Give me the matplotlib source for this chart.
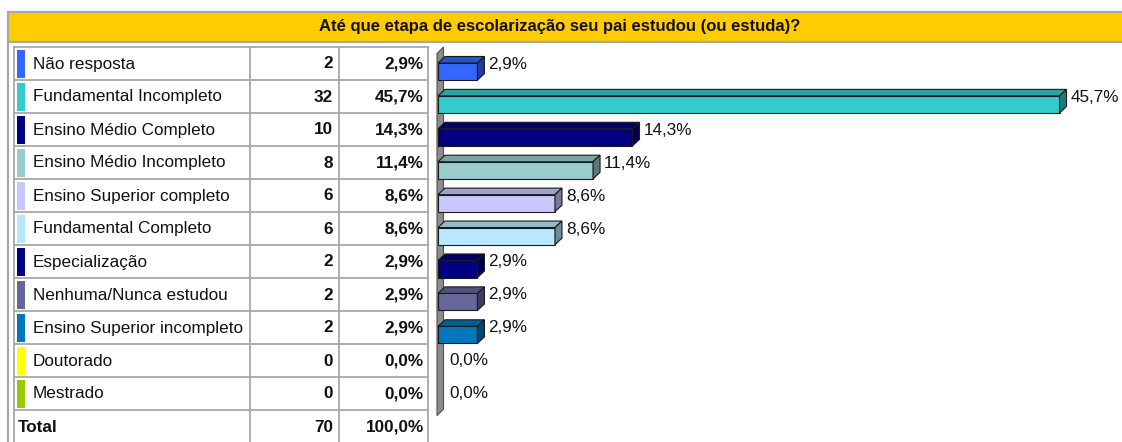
import matplotlib
matplotlib.use("Agg")
import matplotlib.pyplot as plt
from matplotlib.patches import Rectangle, Polygon
from matplotlib.colors import to_rgb
import numpy as np

plt.rcParams['font.family'] = ['Liberation Sans', 'DejaVu Sans']

title = "Até que etapa de escolarização seu pai estudou (ou estuda)?"
categories = ["Não resposta", "Fundamental Incompleto", "Ensino Médio Completo",
              "Ensino Médio Incompleto", "Ensino Superior completo", "Fundamental Completo",
              "Especialização", "Nenhuma/Nunca estudou", "Ensino Superior incompleto",
              "Doutorado", "Mestrado"]
counts = [2, 32, 10, 8, 6, 6, 2, 2, 2, 0, 0]
percents = [2.9, 45.7, 14.3, 11.4, 8.6, 8.6, 2.9, 2.9, 2.9, 0.0, 0.0]
colors = ["#3366FF", "#33CCCC", "#000080", "#99CCCC", "#C8C8FF", "#B8E8FF",
          "#000080", "#666699", "#0077BB", "#FFFF00", "#99CC00"]
total_label = "Total"
total_count = 70
total_pct = 100.0

def fmt(p):
    return f"{p:.1f}".replace(".", ",") + "%"

W, H = 1122, 442
DPI = 100
fig = plt.figure(figsize=(W / DPI, H / DPI), dpi=DPI)
fig.patch.set_facecolor("white")

# layout axes in pixel coordinates (from top-left)
lay = fig.add_axes([0, 0, 1, 1])
lay.set_xlim(0, W)
lay.set_ylim(H, 0)
lay.axis("off")

grid = "#A8A8A8"
# header
lay.add_patch(Rectangle((8, 11.5), W, 30, facecolor="#FFCC00", edgecolor=grid, lw=1.6))
lay.text(560, 27, title, ha="center", va="center", fontsize=12.0, fontweight="bold", color="#111111")
# outer frame left edge
lay.plot([8, 8], [41.5, H + 2], color=grid, lw=1.6)

row_top = 47
row_h = 33
n_rows = len(categories) + 1
tx0, tx1 = 14, 428
col1, col2 = 250.5, 339
# table lines
for k in range(n_rows + 1):
    y = row_top + k * row_h
    lay.plot([tx0, tx1], [y, y], color=grid, lw=1.3)
for x in (tx0, col1, col2, tx1):
    lay.plot([x, x], [row_top, H + 2], color=grid, lw=1.3)

fs = 12.3
for i, (cat, c, p, col) in enumerate(zip(categories, counts, percents, colors)):
    yc = row_top + i * row_h + row_h / 2 + 0.5
    lay.add_patch(Rectangle((17, row_top + i * row_h + 3), 8, row_h - 5, facecolor=col, edgecolor="none"))
    lay.text(33, yc, cat, ha="left", va="center", fontsize=fs, color="#111111")
    lay.text(333, yc, str(c), ha="right", va="center", fontsize=fs, fontweight="bold", color="#111111")
    lay.text(424, yc, fmt(p), ha="right", va="center", fontsize=fs, fontweight="bold", color="#111111")
yc = row_top + len(categories) * row_h + row_h / 2 + 0.5
lay.text(18, yc, total_label, ha="left", va="center", fontsize=fs, fontweight="bold", color="#111111")
lay.text(333, yc, str(total_count), ha="right", va="center", fontsize=fs, fontweight="bold", color="#111111")
lay.text(424, yc, fmt(total_pct), ha="right", va="center", fontsize=fs, fontweight="bold", color="#111111")

# bar chart axes
ax_left = 438
px_per_pct = 13.6
ax = fig.add_axes([ax_left / W, 0, (W - ax_left) / W, (H - row_top) / H])
ax.set_xlim(0, (W - ax_left) / px_per_pct)
ax.set_ylim(n_rows - 0.5, -0.5)
ax.axis("off")
ax.patch.set_alpha(0)

depth_x, depth_y = 7, 6.5  # pixels

def shade(c, f):
    r, g, b = to_rgb(c)
    return (r * f, g * f, b * f)

# wall (drawn beneath the bars)
x0d, _ = ax.transData.transform((0, 0))
_, ytop = ax.transData.transform((0, -0.5))
_, ybot = ax.transData.transform((0, len(categories) - 0.5))
wall = Polygon([(x0d - 1, ytop - depth_y), (x0d + 5.5, ytop), (x0d + 5.5, ybot),
                (x0d - 1, ybot - depth_y)], closed=True, transform=None,
               facecolor="#8C8C8C", edgecolor="#505050", lw=0.8, zorder=-1)
fig.add_artist(wall)

ypos = np.arange(len(categories))
bar_off, bar_h = 0.245, 0.52
for i, (p, col) in enumerate(zip(percents, colors)):
    if p <= 0:
        continue
    ax.barh(ypos[i] + bar_off, p, height=bar_h, left=0, color=col, edgecolor="#1a1a1a", lw=0.8, zorder=3)
    (xa, yb) = ax.transData.transform((0, ypos[i] + bar_off + bar_h / 2))
    (xb, yt) = ax.transData.transform((p, ypos[i] + bar_off - bar_h / 2))
    top = Polygon([(xa, yt), (xb, yt), (xb + depth_x, yt + depth_y), (xa + depth_x, yt + depth_y)],
                  closed=True, transform=None, facecolor=shade(col, 0.8), edgecolor="#1a1a1a", lw=0.8, zorder=3)
    side = Polygon([(xb, yb), (xb, yt), (xb + depth_x, yt + depth_y), (xb + depth_x, yb + depth_y)],
                   closed=True, transform=None, facecolor=shade(col, 0.6), edgecolor="#1a1a1a", lw=0.8, zorder=3)
    fig.add_artist(top)
    fig.add_artist(side)

for i, p in enumerate(percents):
    xl, yl = ax.transData.transform((p, ypos[i]))
    fig.text((xl + depth_x + 4) / W, (yl - 1) / H, fmt(p), ha="left", va="center",
             fontsize=fs, color="#111111")

fig.savefig("out.png", dpi=DPI)
